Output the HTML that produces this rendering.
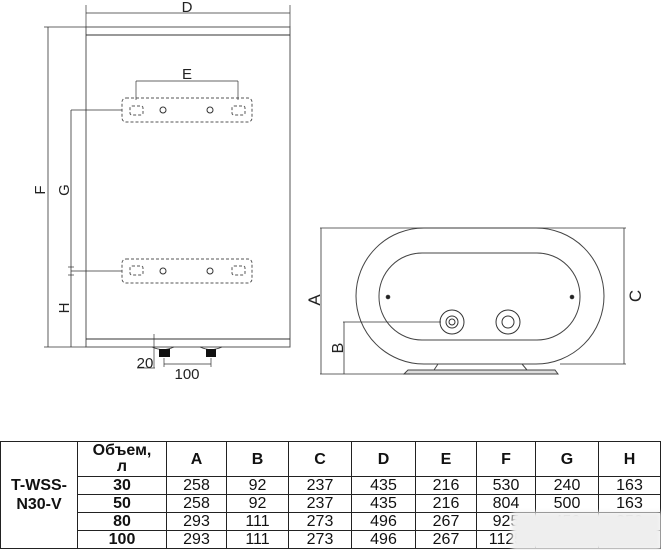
<!DOCTYPE html>
<html><head><meta charset="utf-8"><style>
body{margin:0;background:#fff;width:661px;height:550px;overflow:hidden;position:relative}
svg{position:absolute;left:0;top:0}
table{position:absolute;left:0;top:441px;border-collapse:collapse;font-family:"Liberation Sans","Noto Sans CJK SC",sans-serif;font-size:16px;color:#111}
td{border:1px solid #222;text-align:center;padding:0;height:17px;line-height:17px}
.h td{height:34px;font-weight:bold;font-size:16px}
.b{font-weight:bold}
</style></head><body>
<svg width="661" height="440" viewBox="0 0 661 440" font-family="Liberation Sans, sans-serif" fill="none" stroke="#333" stroke-width="1">
<rect x="86" y="27" width="204" height="320" stroke="#555"/>
<line x1="86" y1="35" x2="290" y2="35"/>
<line x1="86" y1="339" x2="290" y2="339"/>
<line x1="86" y1="5" x2="86" y2="27" stroke-width="0.7"/><line x1="290" y1="5" x2="290" y2="27" stroke-width="0.7"/>
<line x1="86" y1="13" x2="290" y2="13" stroke-width="0.8"/>
<text x="187" y="12" font-size="15" fill="#222" stroke="none" text-anchor="middle">D</text>
<line x1="44" y1="27" x2="86" y2="27" stroke-width="0.7"/><line x1="44" y1="347" x2="86" y2="347" stroke-width="0.7"/>
<line x1="48" y1="27" x2="48" y2="347" stroke-width="0.8"/>
<text x="0" y="0" font-size="15" fill="#222" stroke="none" text-anchor="middle" transform="translate(45,190) rotate(-90)">F</text>
<line x1="71" y1="110" x2="71" y2="347" stroke-width="0.8"/>
<line x1="71" y1="110" x2="122" y2="110" stroke-width="0.7"/>
<line x1="71" y1="271" x2="122" y2="271" stroke-width="0.7"/>
<line x1="68" y1="267" x2="74" y2="267" stroke-width="0.7"/><line x1="68" y1="275" x2="74" y2="275" stroke-width="0.7"/>
<text x="0" y="0" font-size="15" fill="#222" stroke="none" text-anchor="middle" transform="translate(69,190) rotate(-90)">G</text>
<text x="0" y="0" font-size="15" fill="#222" stroke="none" text-anchor="middle" transform="translate(69,308) rotate(-90)">H</text>
<g stroke-dasharray="3,2" stroke="#555">
<rect x="122" y="98" width="130" height="24" rx="4"/>
<rect x="130" y="106" width="13" height="9" rx="2"/><rect x="232" y="106" width="13" height="9" rx="2"/>
<rect x="122" y="259" width="130" height="24" rx="4"/>
<rect x="130" y="266" width="13" height="9" rx="2"/><rect x="232" y="266" width="13" height="9" rx="2"/>
</g>
<circle cx="163" cy="110" r="3"/><circle cx="210" cy="110" r="3"/>
<circle cx="163" cy="271" r="3"/><circle cx="210" cy="271" r="3"/>
<line x1="136" y1="81" x2="238" y2="81" stroke-width="0.8"/>
<line x1="136" y1="81" x2="136" y2="100" stroke-width="0.7"/><line x1="238" y1="81" x2="238" y2="100" stroke-width="0.7"/>
<text x="187" y="79" font-size="15" fill="#222" stroke="none" text-anchor="middle">E</text>
<path d="M152 347 Q163 352 174 347 M200 347 Q211 352 222 347" stroke-width="0.7"/>
<rect x="159" y="349" width="11" height="8" fill="#111" stroke="none"/>
<rect x="206" y="349" width="10" height="8" fill="#111" stroke="none"/>
<line x1="154" y1="334" x2="154" y2="368" stroke-width="0.7"/>
<line x1="137" y1="368" x2="155" y2="368" stroke-width="0.7"/>
<line x1="164" y1="358" x2="164" y2="367" stroke-width="0.7"/><line x1="211" y1="358" x2="211" y2="367" stroke-width="0.7"/>
<line x1="164" y1="364" x2="211" y2="364" stroke-width="0.7"/>
<text x="145" y="368" font-size="15" fill="#222" stroke="none" text-anchor="middle">20</text>
<text x="187" y="379" font-size="15" fill="#222" stroke="none" text-anchor="middle">100</text>
<rect x="356" y="228" width="248" height="136" rx="68" stroke="#444"/>
<rect x="379" y="253" width="201" height="87" rx="43" stroke="#444"/>
<circle cx="388" cy="297" r="1.8" fill="#222"/><circle cx="572" cy="297" r="1.8" fill="#222"/>
<circle cx="452" cy="322" r="12"/><circle cx="452" cy="322" r="6"/><circle cx="452" cy="322" r="3"/>
<circle cx="508" cy="322" r="12"/><circle cx="508" cy="322" r="6"/>
<path d="M438 364 L434 370 M522 364 L527 370" stroke="#444"/>
<path d="M404 374 L408 370 L555 370 L558 374 Z" fill="#ddd" stroke="#444"/>
<line x1="320" y1="228" x2="626" y2="228" stroke-width="0.7"/>
<line x1="320" y1="374" x2="410" y2="374" stroke-width="0.7"/>
<line x1="321" y1="228" x2="321" y2="374" stroke-width="0.8"/>
<text x="0" y="0" font-size="17" fill="#222" stroke="none" text-anchor="middle" transform="translate(320,300) rotate(-90)">A</text>
<line x1="560" y1="364" x2="626" y2="364" stroke-width="0.7"/>
<line x1="624" y1="228" x2="624" y2="364" stroke-width="0.8"/>
<text x="0" y="0" font-size="17" fill="#222" stroke="none" text-anchor="middle" transform="translate(641,296) rotate(-90)">C</text>
<line x1="343" y1="322" x2="441" y2="322" stroke-width="0.7"/>
<line x1="344" y1="322" x2="344" y2="374" stroke-width="0.8"/>
<text x="0" y="0" font-size="16" fill="#222" stroke="none" text-anchor="middle" transform="translate(343,348) rotate(-90)">B</text>
</svg>
<table>
<colgroup><col style="width:77px"><col style="width:89px"><col style="width:60px"><col style="width:62px"><col style="width:63px"><col style="width:64px"><col style="width:61px"><col style="width:59px"><col style="width:63px"><col style="width:62px"></colgroup>
<tr class="h"><td rowspan="5" class="b" style="line-height:19px">T-WSS-<br>N30-V</td><td style="line-height:16px">Объем,<br>л</td><td>A</td><td>B</td><td>C</td><td>D</td><td>E</td><td>F</td><td>G</td><td>H</td></tr>
<tr><td class="b">30</td><td>258</td><td>92</td><td>237</td><td>435</td><td>216</td><td>530</td><td>240</td><td>163</td></tr>
<tr><td class="b">50</td><td>258</td><td>92</td><td>237</td><td>435</td><td>216</td><td>804</td><td>500</td><td>163</td></tr>
<tr><td class="b">80</td><td>293</td><td>111</td><td>273</td><td>496</td><td>267</td><td>925</td><td>450</td><td>350</td></tr>
<tr><td class="b">100</td><td>293</td><td>111</td><td>273</td><td>496</td><td>267</td><td>1125</td><td>650</td><td>350</td></tr>
</table>
<div style="position:absolute;left:512px;top:512px;width:149px;height:38px;background:#eee;filter:blur(2px)"></div>
</body></html>
